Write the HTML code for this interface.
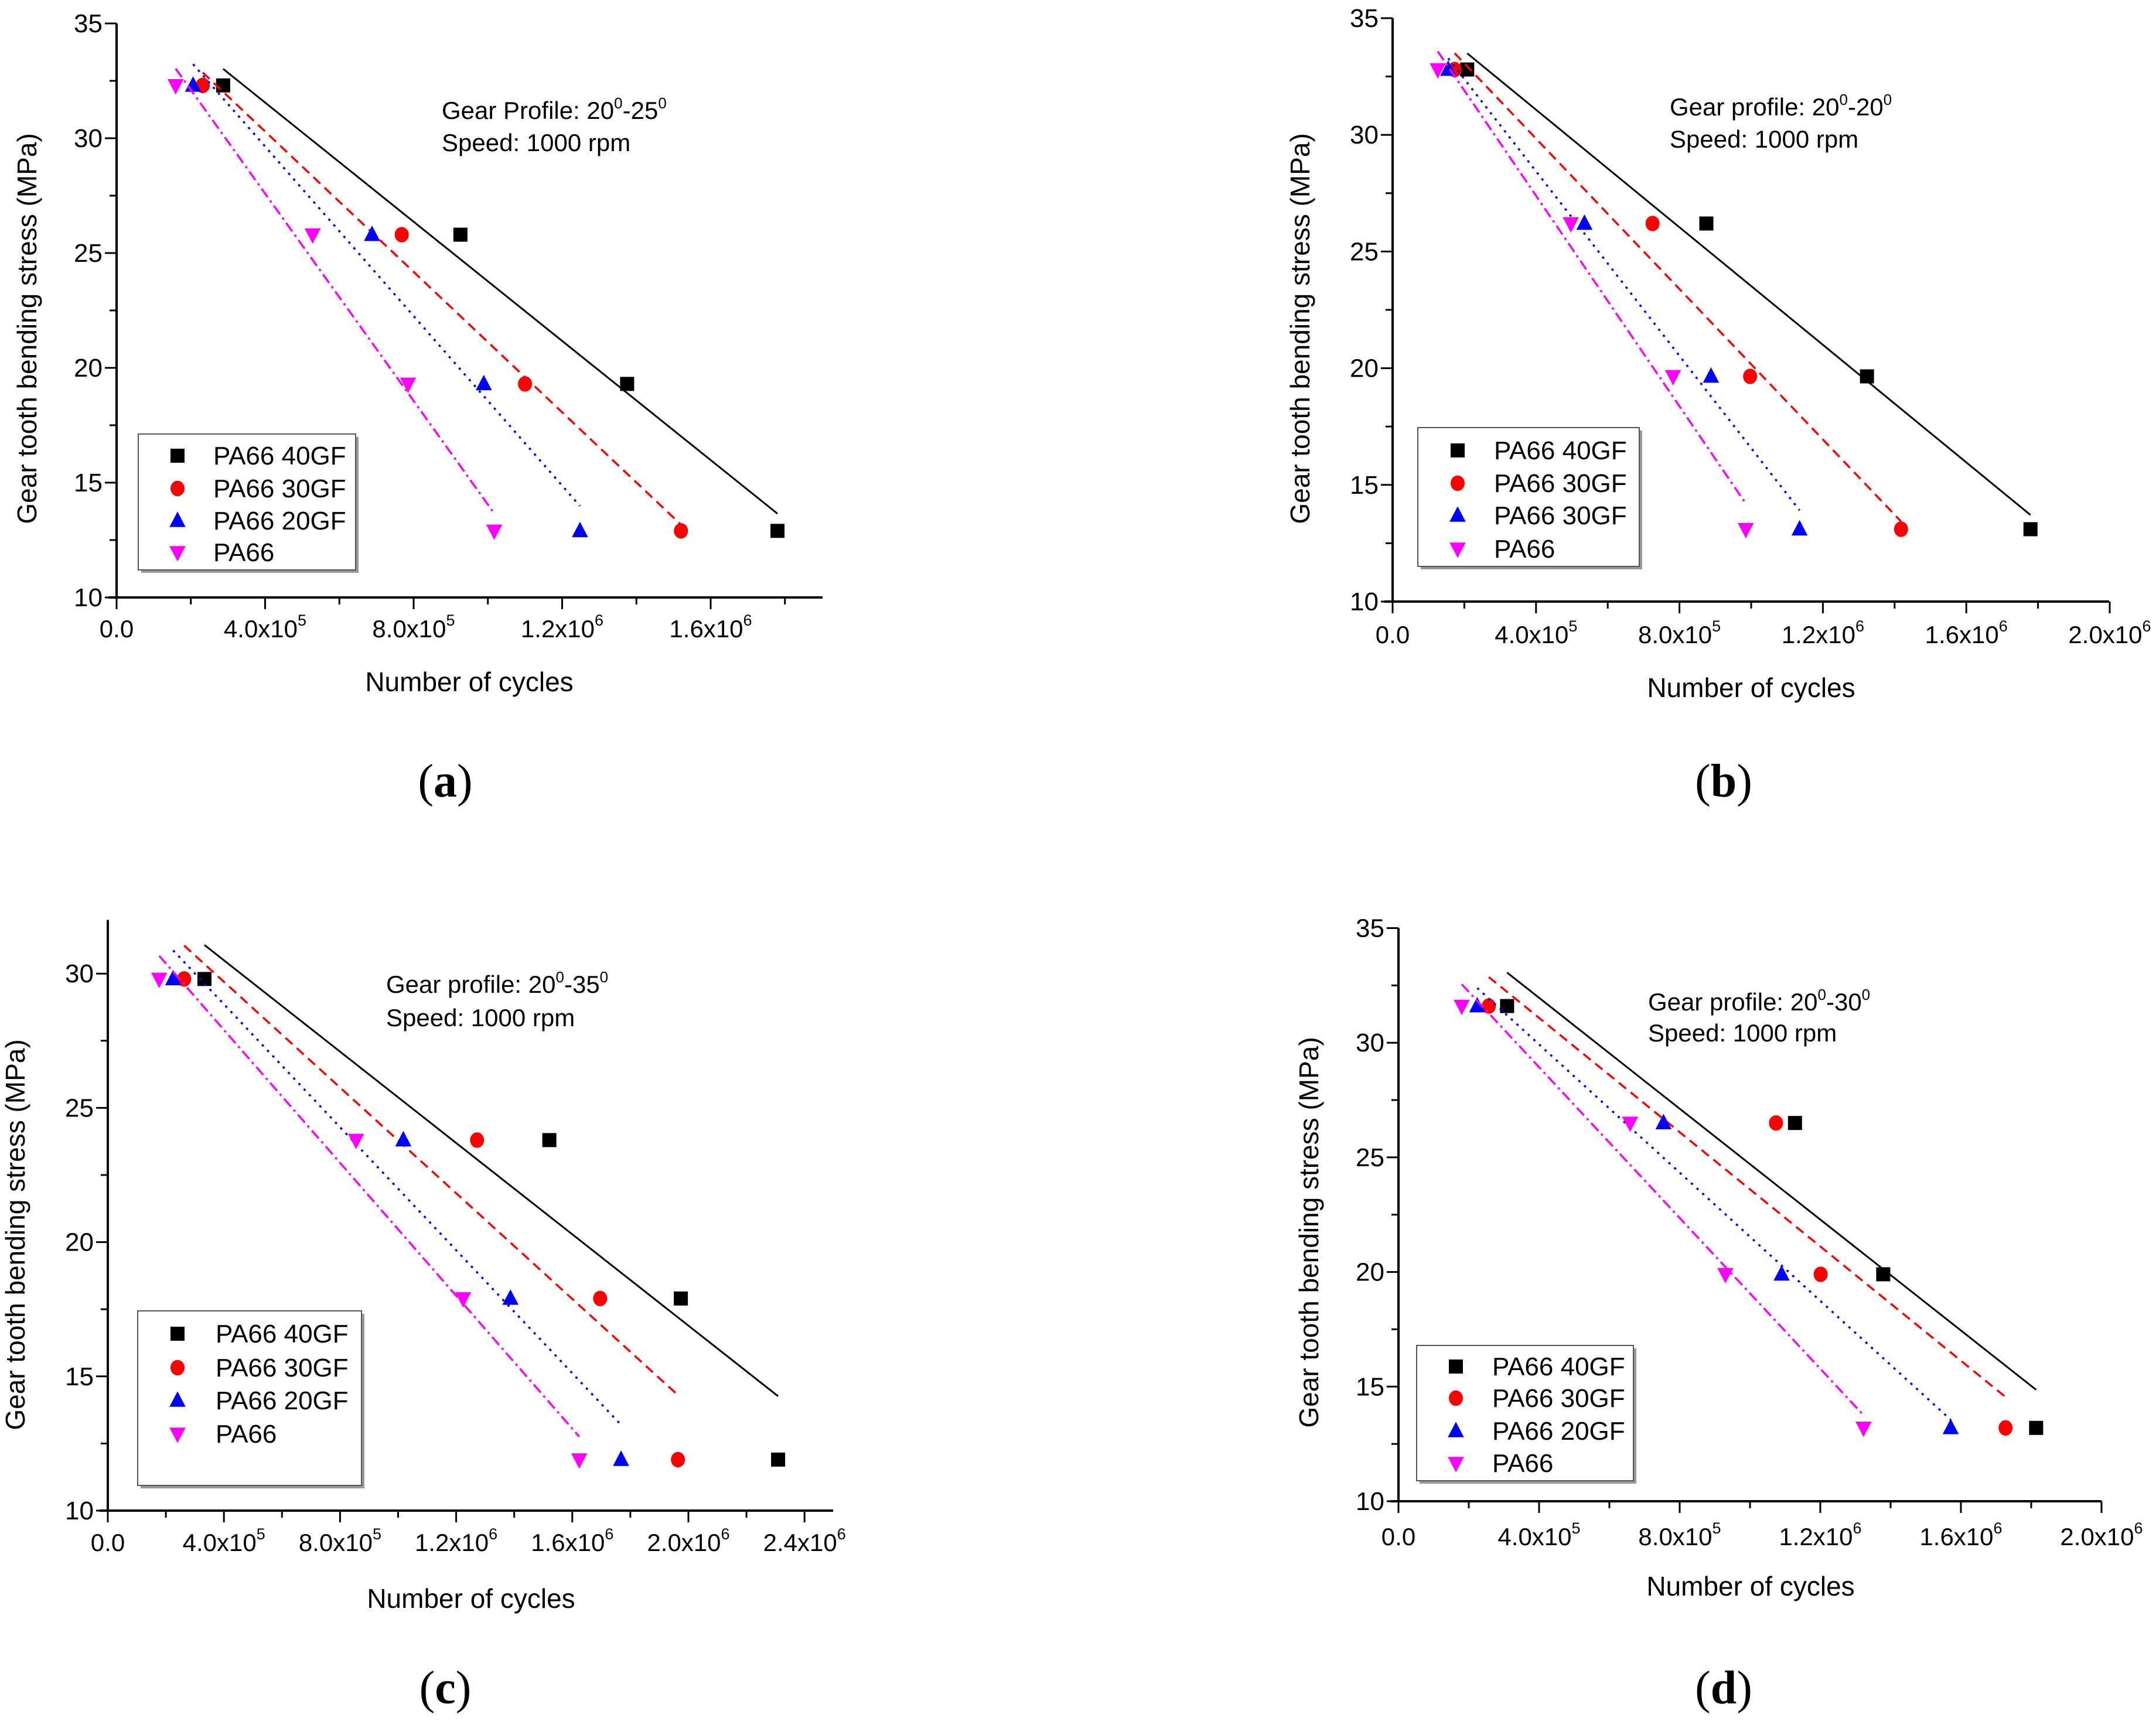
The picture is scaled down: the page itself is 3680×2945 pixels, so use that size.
<!DOCTYPE html>
<html><head><meta charset="utf-8">
<style>
html,body{margin:0;padding:0;background:#fff;}
svg{display:block;}
text{font-family:"Liberation Sans",Arial,sans-serif;}
</style></head>
<body>
<svg id="fig" width="3680" height="2945" viewBox="0 0 3680 2945" xmlns="http://www.w3.org/2000/svg"></svg>
<script>
// ---- data (x in cycles, y in MPa) ----
const seriesNames = ["PA66 40GF","PA66 30GF","PA66 20GF","PA66"];
const seriesNamesB = ["PA66 40GF","PA66 30GF","PA66 30GF","PA66"];
const stressA = [32.3, 25.8, 19.3, 12.9];
const cyclesA40 = [2.87e5, 9.26e5, 1.375e6, 1.78e6];
const cyclesA30 = [2.32e5, 7.68e5, 1.10e6, 1.52e6];
const cyclesA20 = [2.06e5, 6.88e5, 9.89e5, 1.248e6];
const cyclesA00 = [1.59e5, 5.28e5, 7.85e5, 1.017e6];
const stressB = [32.8, 26.2, 19.65, 13.1];
const cyclesB40 = [2.08e5, 8.75e5, 1.323e6, 1.779e6];
const cyclesB30 = [1.73e5, 7.25e5, 9.97e5, 1.418e6];
const cyclesB20 = [1.55e5, 5.35e5, 8.88e5, 1.135e6];
const cyclesB00 = [1.26e5, 4.97e5, 7.82e5, 9.85e5];
const stressC = [29.8, 23.8, 17.9, 11.9];
const cyclesC40 = [3.33e5, 1.521e6, 1.974e6, 2.309e6];
const cyclesC30 = [2.63e5, 1.272e6, 1.696e6, 1.964e6];
const cyclesC20 = [2.25e5, 1.018e6, 1.387e6, 1.768e6];
const cyclesC00 = [1.77e5, 8.55e5, 1.224e6, 1.624e6];
const stressD = [31.6, 26.5, 19.9, 13.2];
const cyclesD40 = [3.09e5, 1.128e6, 1.379e6, 1.814e6];
const cyclesD30 = [2.57e5, 1.074e6, 1.201e6, 1.727e6];
const cyclesD20 = [2.24e5, 7.54e5, 1.09e6, 1.571e6];
const cyclesD00 = [1.80e5, 6.59e5, 9.30e5, 1.323e6];
const xTicksA = [["0.0",""],["4.0x10","5"],["8.0x10","5"],["1.2x10","6"],["1.6x10","6"]];
const xTicksB = [["0.0",""],["4.0x10","5"],["8.0x10","5"],["1.2x10","6"],["1.6x10","6"],["2.0x10","6"]];
const xTicksC = [["0.0",""],["4.0x10","5"],["8.0x10","5"],["1.2x10","6"],["1.6x10","6"],["2.0x10","6"],["2.4x10","6"]];
const yTicksA = [10,15,20,25,30,35];
const yTicksC = [10,15,20,25,30];

const NS="http://www.w3.org/2000/svg";
const svg=document.getElementById('fig');
function el(tag,attrs,parent){const e=document.createElementNS(NS,tag);for(const k in attrs)e.setAttribute(k,attrs[k]);(parent||svg).appendChild(e);return e;}

const colors=["#000000","#ff0000","#0000ff","#ff00ff"];
const dashes=["none","16,10","4,9","18,7,4,7"];
const markers=["square","circle","tri-up","tri-down"];

function marker(g,type,cx,cy,color){
  let m;
  const s=12;
  if(type==="square") m=el('rect',{x:cx-s,y:cy-s,width:2*s,height:2*s,fill:color},g);
  else if(type==="circle") m=el('ellipse',{cx:cx,cy:cy,rx:s,ry:s*1.1,fill:color},g);
  else if(type==="tri-up") m=el('polygon',{points:`${cx},${cy-s*1.3} ${cx+s*1.15},${cy+s*0.9} ${cx-s*1.15},${cy+s*0.9}`,fill:color},g);
  else m=el('polygon',{points:`${cx},${cy+s*1.3} ${cx+s*1.15},${cy-s*0.9} ${cx-s*1.15},${cy-s*0.9}`,fill:color},g);
  return m;
}

function drawPanel(p){
  const g=el('g',{});
  
  
  const X=v=>p.x0+v/4e5*p.xStep;
  const Y=v=>p.yBottom-(v-p.yMin)/5*p.yStep;
  const yTop=Y(p.yMax);
  const axX=p.x0;
  const ax=el('line',{x1:p.x0-14,y1:p.yBottom,x2:p.axEnd,y2:p.yBottom,stroke:'#000','stroke-width':4},g);
  
  
  const ay=el('line',{x1:axX,y1:p.yBottom+2,x2:axX,y2:yTop,stroke:'#000','stroke-width':4},g);
  
  
  p.xTicks.forEach((t,i)=>{
    const x=X(i*4e5);
    el('line',{x1:x,y1:p.yBottom,x2:x,y2:p.yBottom+20,stroke:'#000','stroke-width':3},g);
    const xm=X(i*4e5+2e5);
    if(xm<p.axEnd) el('line',{x1:xm,y1:p.yBottom,x2:xm,y2:p.yBottom+12,stroke:'#000','stroke-width':3},g);
    const tx=el('text',{x:x,y:p.xLabelY,'font-size':42,'text-anchor':'middle'},g);
    
    
    tx.textContent=t[0];
    if(t[1]){const sp=el('tspan',{dy:-20,'font-size':27},tx);sp.textContent=t[1];}
  });
  p.yTicks.forEach(v=>{
    const y=Y(v);
    el('line',{x1:axX,y1:y,x2:axX-20,y2:y,stroke:'#000','stroke-width':3},g);
    if(v+2.5<=p.yMax) el('line',{x1:axX,y1:Y(v+2.5),x2:axX-12,y2:Y(v+2.5),stroke:'#000','stroke-width':3},g);
    const ty=el('text',{x:axX-24,y:y+15,'font-size':44,'text-anchor':'end'},g);
    
    
    ty.textContent=String(v);
  });
  const xt=el('text',{x:p.xTitle[0],y:p.xTitle[1],'font-size':46,'text-anchor':'middle'},g);
  
  
  xt.textContent='Number of cycles';
  const yt=el('text',{x:0,y:0,'font-size':46,'text-anchor':'middle',transform:`translate(${p.yTitle[0]},${p.yTitle[1]}) rotate(-90)`},g);
  
  
  yt.textContent='Gear tooth bending stress (MPa)';
  const a1=el('text',{x:p.note[0],y:p.note[1],'font-size':42},g);
  
  
  a1.textContent=p.noteLabel+': 20';
  let s=el('tspan',{dy:-18,'font-size':26},a1);s.textContent='0';
  s=el('tspan',{dy:18},a1);s.textContent='-'+p.angle;
  s=el('tspan',{dy:-18,'font-size':26},a1);s.textContent='0';
  const a2=el('text',{x:p.note[0],y:p.note[2],'font-size':42},g);
  
  
  a2.textContent='Speed: 1000 rpm';
  p.cycles.forEach((xs,si)=>{
    const ys=p.stress;
    const n=xs.length;
    const mx=xs.reduce((a,b)=>a+b,0)/n, my=ys.reduce((a,b)=>a+b,0)/n;
    let sxy=0,sxx=0;
    for(let i=0;i<n;i++){sxy+=(xs[i]-mx)*(ys[i]-my);sxx+=(xs[i]-mx)*(xs[i]-mx);}
    const b=sxy/sxx,a=my-b*mx;
    const xmin=Math.min(...xs),xmax=Math.max(...xs);
    const fl=el('line',{x1:X(xmin),y1:Y(a+b*xmin),x2:X(xmax),y2:Y(a+b*xmax),stroke:colors[si],'stroke-width':si===0?3:3.5,'stroke-dasharray':dashes[si]},g);
    
    
    for(let i=0;i<n;i++){
      const m=marker(g,markers[si],X(xs[i]),Y(ys[i]),colors[si]);
      
      
    }
  });
  const L=p.legend;
  const lg=el('g',{},g);
  
  
  el('rect',{x:L.x+5,y:L.y+5,width:L.w,height:L.h,fill:'#999'},lg);
  el('rect',{x:L.x,y:L.y,width:L.w,height:L.h,fill:'#fff',stroke:'#555','stroke-width':2},lg);
  p.names.forEach((nm,i)=>{
    const ry=L.rows[i];
    const m=marker(lg,markers[i],L.mx,ry,colors[i]);
    
    
    const t=el('text',{x:L.tx,y:ry+15,'font-size':44},lg);
    
    
    t.textContent=nm;
  });
  const c=el('text',{x:p.cap[0],y:p.cap[1],'font-size':80,'text-anchor':'middle',style:'font-family:"Liberation Serif",serif'},svg);
  
  
  c.textContent='(';
  const cb=el('tspan',{'font-weight':'bold'},c);cb.textContent=p.id;
  const ce=el('tspan',{},c);ce.textContent=')';
}

drawPanel({id:'a',x0:199,xStep:253.5,axEnd:1404,yBottom:1020,yStep:196,yMin:10,yMax:35,
  yTicks:yTicksA,xTicks:xTicksA,xLabelY:1088,xTitle:[801,1180],yTitle:[62,561],
  note:[754,203,258],noteLabel:'Gear Profile',angle:'25',
  cycles:[cyclesA40,cyclesA30,cyclesA20,cyclesA00],stress:stressA,names:seriesNames,
  legend:{x:236,y:741,w:371,h:232,mx:303,tx:364,rows:[778,834,889,943]},cap:[760,1360]});
drawPanel({id:'b',x0:2377,xStep:244.8,axEnd:3600,yBottom:1027,yStep:199.2,yMin:10,yMax:35,
  yTicks:yTicksA,xTicks:xTicksB,xLabelY:1098,xTitle:[2989,1190],yTitle:[2235,561],
  note:[2850,197,252],noteLabel:'Gear profile',angle:'20',
  cycles:[cyclesB40,cyclesB30,cyclesB20,cyclesB00],stress:stressB,names:seriesNamesB,
  legend:{x:2420,y:730,w:378,h:237,mx:2488,tx:2550,rows:[769,825,880,937]},cap:[2942,1360]});
drawPanel({id:'c',x0:184,xStep:198.2,axEnd:1422,yBottom:2579,yStep:229.2,yMin:10,yMax:32,
  yTicks:yTicksC,xTicks:xTicksC,xLabelY:2648,xTitle:[804,2745],yTitle:[42,2108],
  note:[659,1695,1752],noteLabel:'Gear profile',angle:'35',
  cycles:[cyclesC40,cyclesC30,cyclesC20,cyclesC00],stress:stressC,names:seriesNames,
  legend:{x:235,y:2238,w:382,h:298,mx:303,tx:368,rows:[2277,2335,2391,2448]},cap:[760,2908]});
drawPanel({id:'d',x0:2387,xStep:240,axEnd:3587,yBottom:2563,yStep:195.7,yMin:10,yMax:35,
  yTicks:yTicksA,xTicks:xTicksB,xLabelY:2638,xTitle:[2988,2724],yTitle:[2250,2104],
  note:[2813,1725,1778],noteLabel:'Gear profile',angle:'30',
  cycles:[cyclesD40,cyclesD30,cyclesD20,cyclesD00],stress:stressD,names:seriesNames,
  legend:{x:2418,y:2297,w:370,h:231,mx:2485,tx:2547,rows:[2333,2387,2443,2498]},cap:[2942,2908]});
</script>
</body></html>
